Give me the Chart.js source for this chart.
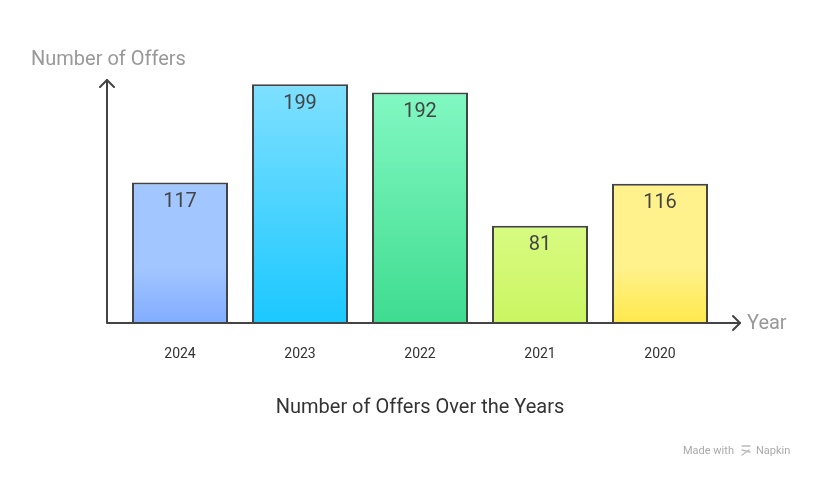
<!DOCTYPE html>
<html>
<head>
<meta charset="utf-8">
<script src="https://cdn.jsdelivr.net/npm/chart.js@4/dist/chart.umd.min.js"></script>
<style>
    html, body { margin: 0; padding: 0; background: #fff; }
    #wrap { width: 816px; height: 478px; position: relative; }
</style>
</head>
<body>
<div id="wrap"><canvas id="offersChart" width="816" height="478"></canvas></div>
<script>
const years = ["2024", "2023", "2022", "2021", "2020"];
const offers = [117, 199, 192, 81, 116];
const topColors = ["#a2c6ff", "#7fe0ff", "#82f8c2", "#d8fb82", "#fff28c"];
const bottomColors = ["#82acff", "#1bc8ff", "#3fdc90", "#cbf562", "#ffe84c"];

function barGradient(context) {
    const chart = context.chart;
    const area = chart.chartArea;
    const i = context.dataIndex;
    if (!area) return topColors[i];
    const top = chart.scales.y.getPixelForValue(offers[i]);
    const g = chart.ctx.createLinearGradient(0, top, 0, area.bottom);
    g.addColorStop(0, topColors[i]);
    if (i === 0 || i === 4) g.addColorStop(0.6, topColors[i]);
    g.addColorStop(1, bottomColors[i]);
    return g;
}

const decorations = {
    id: "decorations",
    afterDatasetsDraw(chart) {
        const ctx = chart.ctx;
        const area = chart.chartArea;
        const xScale = chart.scales.x;
        const yScale = chart.scales.y;
        const axisX = area.left - 13;
        const axisTop = 80;
        const axisRight = area.right + 20;

        ctx.save();
        ctx.strokeStyle = "#444";
        ctx.lineWidth = 2;
        ctx.lineCap = "round";
        ctx.lineJoin = "round";
        ctx.beginPath();
        ctx.moveTo(axisX, axisTop);
        ctx.lineTo(axisX, area.bottom);
        ctx.lineTo(axisRight, area.bottom);
        ctx.stroke();
        // arrows
        ctx.beginPath();
        ctx.moveTo(axisX - 7, axisTop + 7);
        ctx.lineTo(axisX, axisTop);
        ctx.lineTo(axisX + 7, axisTop + 7);
        ctx.moveTo(axisRight - 7, area.bottom - 7);
        ctx.lineTo(axisRight, area.bottom);
        ctx.lineTo(axisRight - 7, area.bottom + 7);
        ctx.stroke();

        // value labels
        ctx.fillStyle = "#444";
        ctx.font = "20px Roboto";
        ctx.textAlign = "center";
        ctx.textBaseline = "middle";
        offers.forEach((v, i) => {
            ctx.fillText(String(v), xScale.getPixelForValue(i), yScale.getPixelForValue(v) + 19.5);
        });

        // category labels
        ctx.fillStyle = "#333";
        ctx.font = "14px Roboto";
        years.forEach((y, i) => {
            ctx.fillText(y, xScale.getPixelForValue(i), area.bottom + 31);
        });

        // axis titles
        ctx.fillStyle = "#999";
        ctx.font = "20px Roboto";
        ctx.textAlign = "left";
        ctx.fillText("Number of Offers", 31, 60);
        ctx.fillText("Year", axisRight + 7, area.bottom + 1);

        // title
        ctx.fillStyle = "#333";
        ctx.font = "20px Roboto";
        ctx.textAlign = "center";
        ctx.fillText("Number of Offers Over the Years", 420, 408);

        // footer
        ctx.fillStyle = "#aaa";
        ctx.font = "11px Roboto";
        ctx.textAlign = "left";
        ctx.fillText("Made with", 683, 451);
        ctx.fillText("Napkin", 756, 451);
        ctx.strokeStyle = "#bbb";
        ctx.lineWidth = 1.3;
        ctx.beginPath();
        ctx.moveTo(742, 446); ctx.lineTo(750, 446);
        ctx.moveTo(742, 450); ctx.lineTo(750, 452);
        ctx.moveTo(742, 455); ctx.lineTo(749, 450);
        ctx.stroke();
        ctx.restore();
    }
};

new Chart(document.getElementById("offersChart").getContext("2d"), {
    type: "bar",
    data: {
        labels: years,
        datasets: [{
            data: offers,
            backgroundColor: barGradient,
            borderColor: "#444",
            borderWidth: 2,
            borderSkipped: "bottom",
            categoryPercentage: 1,
            barPercentage: 0.8
        }]
    },
    options: {
        responsive: false,
        animation: false,
        layout: { padding: { left: 120, right: 96, top: 71, bottom: 155 } },
        scales: {
            x: { display: false },
            y: { display: false, min: 0, max: 210 }
        },
        plugins: {
            legend: { display: false },
            tooltip: { enabled: false }
        }
    },
    plugins: [decorations]
});
</script>
</body>
</html>
